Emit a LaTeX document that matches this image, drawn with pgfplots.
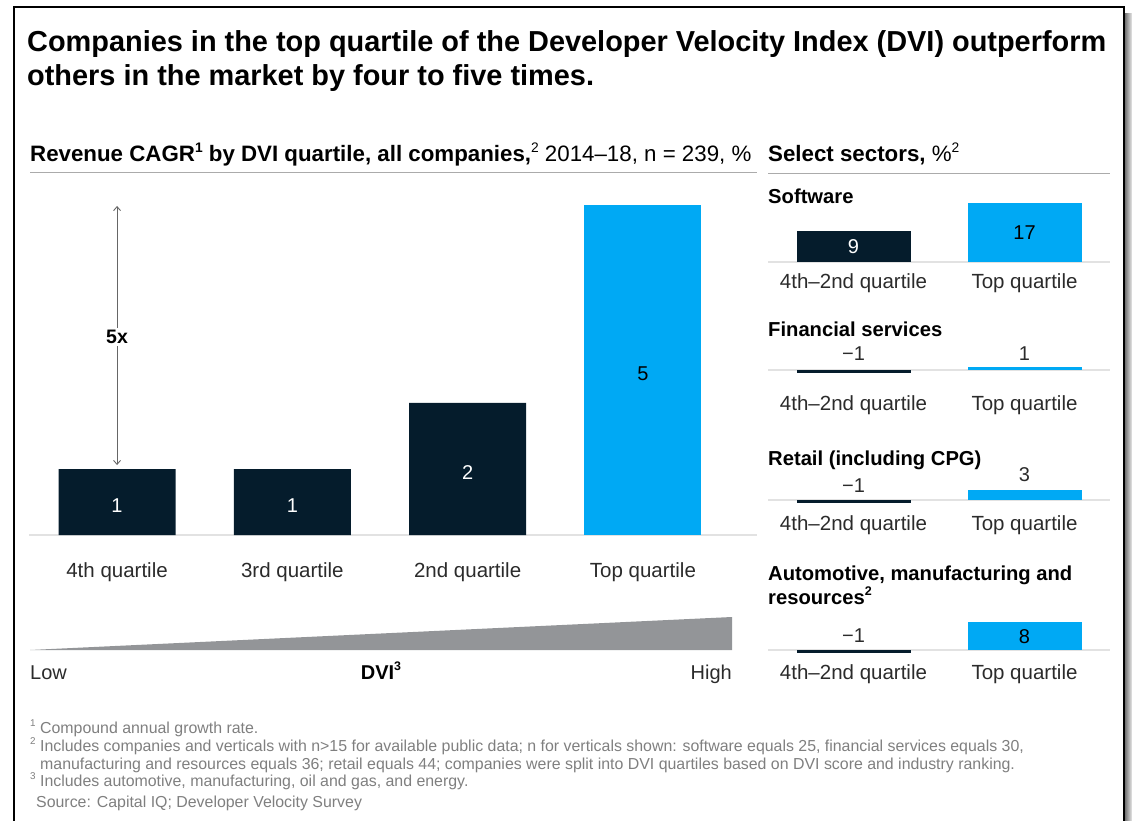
\documentclass[border=0pt]{standalone}
\usepackage{pgfplots}
\pgfplotsset{compat=1.18}
\usepackage{fontspec}
\setmainfont{Liberation Sans}
\usetikzlibrary{arrows.meta}
\definecolor{dark}{HTML}{051C2C}
\definecolor{cyanb}{HTML}{00A9F4}
\definecolor{rulec}{HTML}{ABABAB}
\definecolor{basec}{HTML}{E2E2E2}
\definecolor{wedgec}{HTML}{939598}
\definecolor{foot}{HTML}{7F7F7F}
\definecolor{txt}{HTML}{2B2B2B}
\newcommand{\fs}[1]{\fontsize{#1}{#1}\selectfont}
\newcommand{\sups}[1]{\raisebox{0.42em}{\fontsize{0.62em}{0.62em}\selectfont #1}}
\pgfplotsset{
  small/.style={
    x=171pt, y=3.47pt, xmin=-0.5, xmax=1.5, ymin=-2, ymax=18,
    axis x line=middle, axis y line=none, ytick=\empty,
    x axis line style={-, draw=basec, line width=1.2pt},
    xtick={0,1}, xticklabels={4th–2nd quartile, Top quartile},
    major tick length=0pt,
    xticklabel style={anchor=base, font=\fs{20.5}, text=txt},
    ybar, bar width=114pt, bar shift=0pt,
    clip=false, anchor=south west,
  },
  lab/.style={point meta=explicit symbolic, nodes near coords,
    visualization depends on={y \as \rawy},
    nodes near coords style={anchor=center, font=\fs{20}}},
}
\begin{document}
\begin{tikzpicture}[x=1pt,y=1pt]
\path[use as bounding box] (0,0) rectangle (1132,820);
% frame and shadow
\shade[left color=black!55, right color=black!8] (1125,-1) rectangle (1132,806);
\draw[line width=1.5pt] (14,-2) -- (14,813) -- (1124,813) -- (1124,-2);
% title
\node[anchor=base west, inner sep=0, font=\fs{28.9}\bfseries] at (27,768) {Companies in the top quartile of the Developer Velocity Index (DVI) outperform};
\node[anchor=base west, inner sep=0, font=\fs{28.9}\bfseries] at (27,734) {others in the market by four to five times.};
% subtitles
\node[anchor=base west, inner sep=0, font=\fs{22.3}] at (30,658) {\textbf{Revenue CAGR\sups{1} by DVI quartile, all companies,}\sups{2} 2014–18, n = 239, \%};
\draw[rulec, line width=1pt] (30,647) -- (757,647);
\node[anchor=base west, inner sep=0, font=\fs{22.3}] at (768,658) {\textbf{Select sectors,} \%\sups{2}};
\draw[rulec, line width=1pt] (768,646) -- (1110,646);
% main chart
\begin{axis}[at={(29.4pt,285pt)}, anchor=south west, x=175.3pt, y=66pt,
  xmin=-0.5, xmax=3.65, ymin=0, ymax=5.1,
  axis x line=bottom, axis y line=none, ytick=\empty,
  x axis line style={-, draw=basec, line width=1.2pt},
  xtick={0,1,2,3}, xticklabels={4th quartile,3rd quartile,2nd quartile,Top quartile},
  major tick length=0pt,
  xticklabel style={anchor=base, yshift=-42pt, font=\fs{20.5}, text=txt},
  ybar, bar width=117pt, bar shift=0pt, clip=false]
\addplot[fill=dark, draw=none, lab, nodes near coords style={text=white, yshift={-33*\rawy-4}}]
  coordinates {(0,1)[1] (1,1)[1] (2,2)[2]};
\addplot[fill=cyanb, draw=none, lab, nodes near coords style={text=black, yshift={-33*\rawy-4}}]
  coordinates {(3,5)[5]};
\draw[{Straight Barb[length=4pt,width=7pt]}-{Straight Barb[length=4pt,width=7pt]}, draw=black!60, line width=0.9pt]
  (axis cs:0,1.06) -- (axis cs:0,4.985);
\node[fill=white, inner sep=2pt, font=\fs{19.5}\bfseries] at (axis cs:0,3) {5x};
\end{axis}
% DVI wedge
\fill[wedgec] (30,170) -- (732,170) -- (732,203) -- cycle;
\node[anchor=base west, inner sep=0, font=\fs{20}, text=txt] at (30,141) {Low};
\node[anchor=base, inner sep=0, font=\fs{20}\bfseries] at (381,141) {DVI\sups{3}};
\node[anchor=base east, inner sep=0, font=\fs{20}, text=txt] at (732,141) {High};
% sector headers
\node[anchor=base west, inner sep=0, font=\fs{20.2}\bfseries] at (768,616) {Software};
\node[anchor=base west, inner sep=0, font=\fs{20.2}\bfseries] at (768,483) {Financial services};
\node[anchor=base west, inner sep=0, font=\fs{20.2}\bfseries] at (768,354) {Retail (including CPG)};
\node[anchor=base west, inner sep=0, font=\fs{20.2}\bfseries] at (768,240) {Automotive, manufacturing and};
\node[anchor=base west, inner sep=0, font=\fs{20.2}\bfseries] at (768,216) {resources\sups{2}};
% Software
\begin{axis}[small, at={(768pt,551.06pt)}, xticklabel style={yshift=-27pt}]
\addplot[fill=dark, draw=none, lab, nodes near coords style={text=white, yshift={-1.735*\rawy}}] coordinates {(0,9)[9]};
\addplot[fill=cyanb, draw=none, lab, nodes near coords style={text=black, yshift={-1.735*\rawy}}] coordinates {(1,17)[17]};
\end{axis}
% Financial services
\begin{axis}[small, at={(768pt,443.06pt)}, xticklabel style={yshift=-41pt}]
\addplot[fill=dark, draw=none, lab, nodes near coords style={text=txt, yshift=19.5pt}] coordinates {(0,-1)[−1]};
\addplot[fill=cyanb, draw=none, lab, nodes near coords style={text=txt, yshift=12.5pt}] coordinates {(1,1)[1]};
\end{axis}
% Retail
\begin{axis}[small, at={(768pt,313.06pt)}, xticklabel style={yshift=-30pt}]
\addplot[fill=dark, draw=none, lab, nodes near coords style={text=txt, yshift=17.5pt}] coordinates {(0,-1)[−1]};
\addplot[fill=cyanb, draw=none, lab, nodes near coords style={text=txt, yshift=14.6pt}] coordinates {(1,3)[3]};
\end{axis}
% Automotive
\begin{axis}[small, at={(768pt,163.06pt)}, xticklabel style={yshift=-29pt}]
\addplot[fill=dark, draw=none, lab, nodes near coords style={text=txt, yshift=17.5pt}] coordinates {(0,-1)[−1]};
\addplot[fill=cyanb, draw=none, lab, nodes near coords style={text=black, yshift={-1.735*\rawy}}] coordinates {(1,8)[8]};
\end{axis}
% footnotes
\begin{scope}[every node/.style={anchor=base west, inner sep=0, font=\fs{15.9}, text=foot}]
\node at (30,87) {\sups{1} Compound annual growth rate.};
\node at (30,69) {\sups{2} Includes companies and verticals with n>15 for available public data; n for verticals shown: software equals 25, financial services equals 30,};
\node at (40,51) {manufacturing and resources equals 36; retail equals 44; companies were split into DVI quartiles based on DVI score and industry ranking.};
\node at (30,34) {\sups{3} Includes automotive, manufacturing, oil and gas, and energy.};
\node at (36,13) {Source: Capital IQ; Developer Velocity Survey};
\end{scope}
\end{tikzpicture}
\end{document}
